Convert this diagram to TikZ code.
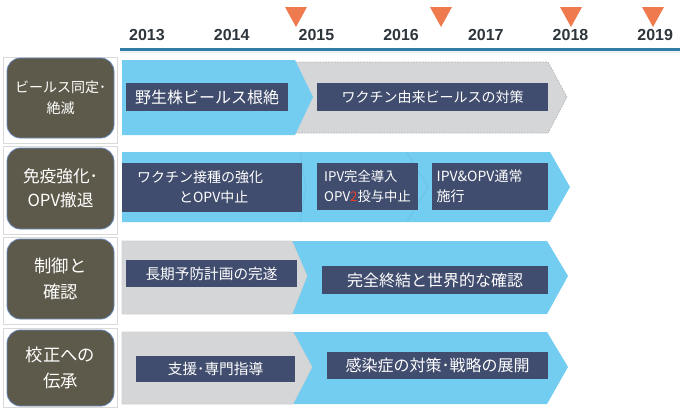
\documentclass[tikz,border=0pt]{standalone}
\usepackage{fontspec}
\setmainfont{Noto Sans CJK JP}
\newfontfamily\yearfont{Liberation Sans}
\usetikzlibrary{fit}
\definecolor{navybox}{HTML}{414D6E}
\definecolor{skyband}{HTML}{72CDF0}
\definecolor{grayband}{HTML}{D5D6D8}
\definecolor{olivebox}{HTML}{5E5A4B}
\definecolor{oliveedge}{HTML}{6A8BBE}
\definecolor{milestone}{HTML}{EE7A4E}
\definecolor{axisblue}{HTML}{2F7EA6}
\definecolor{yeargray}{HTML}{2E353B}
\definecolor{stopred}{HTML}{E8412A}
\tikzset{
	row frame/.style={draw=gray!30, line width=0.5pt},
	row box/.style={draw=oliveedge, fill=olivebox, rounded corners=10pt, line width=0.6pt, inner sep=0pt},
	row text/.style={text=white, align=center, inner sep=0pt, font=\fontsize{13}{19}\selectfont},
	task box/.style={fill=navybox, inner sep=0pt},
	task text/.style={text=white, inner sep=0pt, font=\fontsize{10.5}{15}\selectfont},
	blue band/.style={fill=skyband},
	gray band/.style={fill=grayband, draw=gray!35, line width=0.4pt},
	year/.style={font=\yearfont\bfseries\fontsize{12}{12}\selectfont, text=yeargray},
}

\begin{document}
\begin{tikzpicture}[x=0.75pt, y=-0.75pt, line join=round]
	\useasboundingbox (0,0) rectangle (680,408);
	
	% time axis
	\foreach \yr [count=\i from 0] in {2013,...,2019}
		\node[year] (y\yr) at (147+84.7*\i, 35) {\yr};
	\draw[gray!12, line width=1.5pt] (120,52) -- (680,52);
	\draw[axisblue, line width=1.6pt] (120,49.5) -- (680,49.5);
	\foreach \tx in {296,441,571,653}
		\fill[milestone] (\tx-11,7) -- (\tx+11,7) -- (\tx,27) -- cycle;
	
	% row headers
	\foreach \top/\bot in {57/143,146/234,237/324,328/407.6}
		\draw[row frame] (3,\top) rectangle (117,\bot);
	\node[row box, fit={(7,58) (114,138)}] (r1) {};
	\node[row box, fit={(7,148) (114,229)}] (r2) {};
	\node[row box, fit={(7,239) (114,319)}] (r3) {};
	\node[row box, fit={(7,330) (114,406)}] (r4) {};
	\node[row text, font=\fontsize{10.5}{16}\selectfont] (l1) at (r1) {ビールス同定･\\絶滅};
	\node[row text, font=\fontsize{12.5}{18}\selectfont] (l2) at (r2) {免疫強化･\\OPV撤退};
	\node[row text] (l3) at (r3) {制御と\\確認};
	\node[row text] (l4) at (r4) {校正への\\伝承};
	
	% row 1
	\path[fill=grayband, draw=gray!60, line width=0.5pt, dash pattern=on 1.2pt off 1pt]
		(290,62) -- (548,62) -- (567,97) -- (548,133) -- (290,133) -- cycle;
	\path[blue band] (122,60) -- (295,60) -- (313,97) -- (295,135) -- (122,135) -- cycle;
	\node[task box, fit={(126,83) (288,111)}] (t11) {};
	\node[task box, fit={(317,83) (548,111)}] (t12) {};
	\node[task text, font=\fontsize{12}{15}\selectfont] (l11) at (t11) {野生株ビールス根絶};
	\node[task text] (l12) at (t12) {ワクチン由来ビールスの対策};
	
	% row 2
	\path[blue band] (122,152) -- (550,152) -- (570,187) -- (550,222) -- (122,222) -- cycle;
	\draw[skyband!80!black, opacity=0.3, line width=0.5pt] (300,152) -- (306,187) -- (300,222);
	\draw[skyband!80!black, opacity=0.3, line width=0.5pt] (407,152) -- (428,187) -- (407,222);
	\node[task box, fit={(122,163) (302,212)}] (t21) {};
	\node[task box, fit={(317,163) (418,210)}] (t22) {};
	\node[task box, fit={(432,163) (548,210)}] (t23) {};
	\node[task text, text width=112.5pt, align=left] (l21) at (t21)
		{ワクチン接種の強化\\\hspace*{3em}とOPV中止};
	\node[task text, text width=65pt, align=left, font=\fontsize{10}{15}\selectfont] (l22) at (t22)
		{IPV完全導入\\OPV{\color{stopred}2}投与中止};
	\node[task text, text width=80pt, align=left] (l23) at (t23) {IPV\&OPV通常\\施行};
	
	% row 3
	\path[blue band] (285,241) -- (547,241) -- (568,276) -- (547,314) -- (285,314) -- cycle;
	\path[gray band] (122,241) -- (292,241) -- (307,276) -- (292,314) -- (122,314) -- cycle;
	\node[task box, fit={(126,260) (297,287)}] (t31) {};
	\node[task box, fit={(322,266) (548,294)}] (t32) {};
	\node[task text, font=\fontsize{11}{15}\selectfont] (l31) at (t31) {長期予防計画の完遂};
	\node[task text, font=\fontsize{12}{15}\selectfont] (l32) at (t32) {完全終結と世界的な確認};
	
	% row 4
	\path[blue band] (285,332) -- (547,332) -- (568,367) -- (547,404) -- (285,404) -- cycle;
	\path[gray band] (122,332) -- (293,332) -- (312,367) -- (293,404) -- (122,404) -- cycle;
	\node[task box, fit={(136,356) (295,382)}] (t41) {};
	\node[task box, fit={(327,352) (548,379)}] (t42) {};
	\node[task text, font=\fontsize{11}{15}\selectfont] (l41) at (t41) {支援･専門指導};
	\node[task text, font=\fontsize{12}{15}\selectfont] (l42) at (t42) {感染症の対策･戦略の展開};
\end{tikzpicture}
\end{document}
